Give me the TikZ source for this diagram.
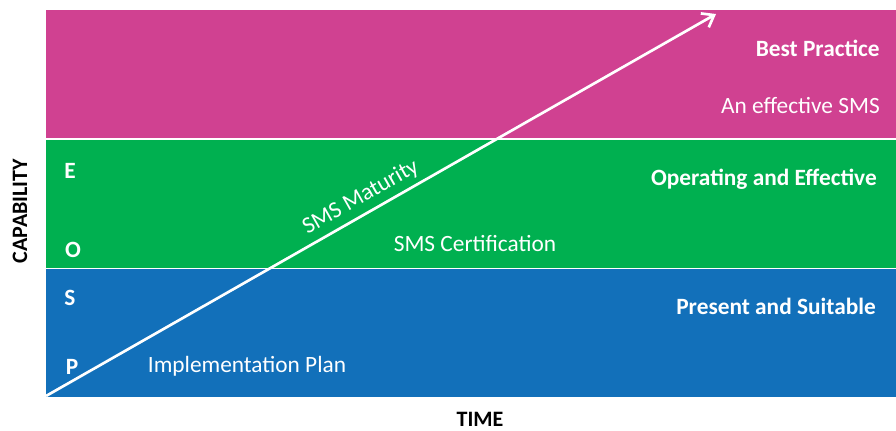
\documentclass[tikz,border=0pt]{standalone}
\usepackage{fontspec}
\setmainfont{Carlito}
\usetikzlibrary{arrows.meta}
\definecolor{bandmag}{RGB}{208,65,145}
\definecolor{bandgreen}{RGB}{0,176,80}
\definecolor{bandblue}{RGB}{18,112,186}
\tikzset{
  band/.style={draw=none,inner sep=0pt,outer sep=0pt,anchor=north west,minimum width=850*0.75pt,minimum height=128*0.75pt},
  wtxt/.style={text=white,font=\fontsize{17.5}{20}\selectfont,inner sep=0pt},
  wbold/.style={wtxt,font=\fontsize{17.5}{20}\selectfont\bfseries},
  axis/.style={text=black,font=\fontsize{16.5}{19}\selectfont\bfseries,inner sep=0pt},
  growth/.style={white,line width=2pt,-{Straight Barb[length=8pt,width=12pt,line width=2pt]}}
}
\begin{document}
\begin{tikzpicture}[x=0.75pt,y=-0.75pt]
\useasboundingbox (0,0) rectangle (896,430);
\node[band,fill=bandmag] (best) at (46,10) {};
\node[band,fill=bandgreen] (oper) at (46,139.5) {};
\node[band,fill=bandblue] (pres) at (46,268.5) {};
\coordinate (start) at (46,396);
\coordinate (end) at (716,14);
\draw[growth] (start) -- (end) node[pos=0.482,sloped,above=4pt,wtxt] (mat) {SMS Maturity};
\node[wbold,anchor=east] (bp) at (880,48) {Best Practice};
\node[wtxt,anchor=east] (eff) at (880,106) {An effective SMS};
\node[wbold,anchor=east] (oe) at (877,179) {Operating and Effective};
\node[wtxt] (cert) at (475,244) {SMS Certification};
\node[wbold,anchor=east] (ps) at (876,306) {Present and Suitable};
\node[wtxt] (impl) at (247,366) {Implementation Plan};
\node[wbold] (E) at (70,171) {E};
\node[wbold] (O) at (73,250) {O};
\node[wbold] (S) at (70,298) {S};
\node[wbold] (P) at (72,367) {P};
\node[axis,rotate=90] (cap) at (20,211) {CAPABILITY};
\node[axis] (time) at (480,419) {TIME};
\end{tikzpicture}
\end{document}
